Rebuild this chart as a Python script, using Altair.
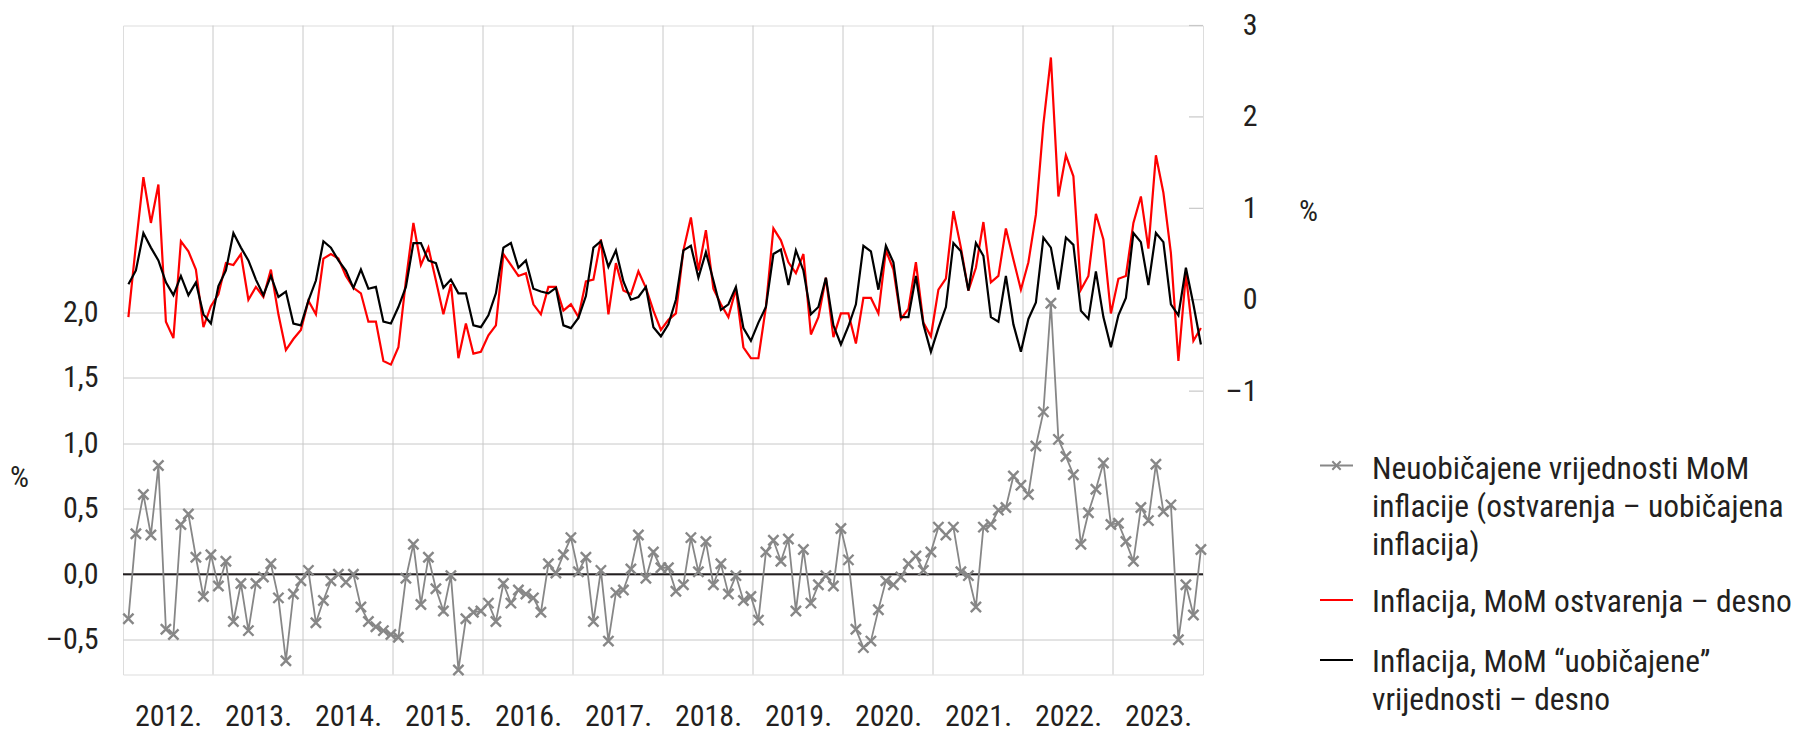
import altair as alt
import pandas as pd

# ---- data ----
years = ["2012.", "2013.", "2014.", "2015.", "2016.", "2017.", "2018.", "2019.",
         "2020.", "2021.", "2022.", "2023."]

# Inflacija, MoM ostvarenja (right axis)
red = [-0.19, 0.60, 1.34, 0.84, 1.26, -0.24, -0.42, 0.64, 0.53, 0.33, -0.30, -0.07,
       0.06, 0.40, 0.38, 0.50, 0.00, 0.14, 0.03, 0.33, -0.16, -0.55, -0.43, -0.33,
       -0.01, -0.16, 0.45, 0.50, 0.45, 0.26, 0.13, 0.07, -0.24, -0.24, -0.67, -0.71,
       -0.52, 0.21, 0.84, 0.38, 0.57, 0.21, -0.16, 0.17, -0.64, -0.26, -0.59, -0.57,
       -0.39, -0.28, 0.50, 0.38, 0.26, 0.29, -0.05, -0.16, 0.14, 0.14, -0.12, -0.05,
       -0.19, 0.20, 0.22, 0.66, -0.16, 0.40, 0.10, 0.06, 0.31, 0.13, -0.12, -0.33,
       -0.22, -0.15, 0.54, 0.90, 0.32, 0.76, 0.12, -0.05, -0.19, 0.12, -0.52, -0.64,
       -0.64, -0.08, 0.78, 0.65, 0.41, 0.29, 0.50, -0.38, -0.19, 0.24, -0.41, -0.15,
       -0.15, -0.48, 0.02, 0.02, -0.15, 0.54, 0.33, -0.21, -0.10, 0.41, -0.25, -0.40,
       0.11, 0.23, 0.97, 0.57, 0.10, 0.35, 0.85, 0.19, 0.26, 0.78, 0.44, 0.11,
       0.41, 0.93, 1.92, 2.65, 1.13, 1.58, 1.35, 0.11, 0.26, 0.94, 0.66, -0.15,
       0.23, 0.26, 0.84, 1.13, 0.56, 1.58, 1.17, 0.51, -0.67, 0.28, -0.45, -0.31]

# Inflacija, MoM "uobičajene" vrijednosti (right axis)
black = [0.17, 0.32, 0.73, 0.57, 0.43, 0.19, 0.05, 0.26, 0.05, 0.19, -0.16, -0.26,
         0.15, 0.32, 0.73, 0.57, 0.43, 0.22, 0.05, 0.26, 0.03, 0.09, -0.26, -0.28,
         -0.01, 0.21, 0.64, 0.57, 0.43, 0.32, 0.13, 0.33, 0.12, 0.14, -0.24, -0.26,
         -0.08, 0.14, 0.62, 0.62, 0.43, 0.40, 0.13, 0.22, 0.07, 0.07, -0.28, -0.30,
         -0.17, 0.07, 0.57, 0.62, 0.35, 0.43, 0.12, 0.09, 0.07, 0.13, -0.28, -0.31,
         -0.20, 0.04, 0.57, 0.64, 0.36, 0.54, 0.20, 0.00, 0.03, 0.14, -0.30, -0.40,
         -0.27, 0.00, 0.54, 0.59, 0.24, 0.52, 0.21, -0.11, -0.05, 0.14, -0.31, -0.45,
         -0.25, -0.08, 0.50, 0.55, 0.16, 0.54, 0.32, -0.16, -0.08, 0.24, -0.28, -0.49,
         -0.29, -0.05, 0.59, 0.53, 0.11, 0.59, 0.41, -0.19, -0.19, 0.26, -0.27, -0.57,
         -0.31, -0.08, 0.62, 0.53, 0.10, 0.62, 0.48, -0.19, -0.24, 0.26, -0.27, -0.57,
         -0.21, -0.03, 0.68, 0.57, 0.11, 0.68, 0.60, -0.12, -0.21, 0.31, -0.19, -0.52,
         -0.17, 0.02, 0.73, 0.63, 0.16, 0.73, 0.63, -0.05, -0.17, 0.35, -0.05, -0.49]

# Neuobičajene vrijednosti MoM inflacije (left axis)
gray = [-0.34, 0.31, 0.61, 0.30, 0.83, -0.42, -0.46, 0.38, 0.46, 0.13, -0.17, 0.15,
        -0.09, 0.10, -0.36, -0.07, -0.43, -0.07, -0.02, 0.08, -0.18, -0.66, -0.15, -0.05,
        0.03, -0.37, -0.20, -0.05, 0.00, -0.06, 0.00, -0.25, -0.36, -0.40, -0.43, -0.46,
        -0.48, -0.03, 0.23, -0.23, 0.13, -0.11, -0.28, -0.01, -0.73, -0.34, -0.29, -0.28,
        -0.22, -0.36, -0.07, -0.22, -0.12, -0.15, -0.18, -0.29, 0.08, 0.01, 0.15, 0.28,
        0.02, 0.13, -0.36, 0.03, -0.51, -0.14, -0.12, 0.04, 0.30, -0.03, 0.17, 0.05,
        0.05, -0.13, -0.08, 0.28, 0.02, 0.25, -0.08, 0.08, -0.15, -0.01, -0.20, -0.17,
        -0.35, 0.17, 0.26, 0.10, 0.27, -0.28, 0.19, -0.22, -0.08, -0.01, -0.09, 0.35,
        0.11, -0.42, -0.56, -0.51, -0.27, -0.05, -0.08, -0.02, 0.08, 0.14, 0.03, 0.17,
        0.36, 0.30, 0.36, 0.02, -0.01, -0.25, 0.36, 0.38, 0.49, 0.51, 0.75, 0.68,
        0.61, 0.98, 1.24, 2.07, 1.03, 0.90, 0.76, 0.23, 0.47, 0.65, 0.85, 0.38,
        0.39, 0.25, 0.10, 0.51, 0.41, 0.84, 0.48, 0.53, -0.50, -0.08, -0.31, 0.19]

left_ticks = [-0.5, 0.0, 0.5, 1.0, 1.5, 2.0]
right_ticks = [-1, 0, 1, 2, 3]

legend_gray = ["Neuobičajene vrijednosti MoM", "inflacije (ostvarenja – uobičajena", "inflacija)"]
legend_red = ["Inflacija, MoM ostvarenja – desno"]
legend_black = ["Inflacija, MoM “uobičajene”", "vrijednosti – desno"]

# ---- tables ----
n = len(red)
df = pd.DataFrame({
    "m": [i + 0.72 for i in range(n)],
    "red": red,
    "black": black,
    "gray": gray,
})
grid_df = pd.DataFrame({"b": [12 * k for k in range(1, len(years))]})
rt_df = pd.DataFrame({"v": right_ticks})
zero_df = pd.DataFrame({"v": [0.0]})
one = pd.DataFrame({"a": [0]})

FONT = "Liberation Sans Narrow, Arial Narrow, Roboto Condensed, DejaVu Sans Condensed, sans-serif"
TXT = "#231f20"
GRID = "#c8c8c8"
GRAY = "#878787"
W, H = 1080, 649

xscale = alt.Scale(domain=[0, 12 * len(years)], nice=False, zero=False)
year_arr = "[" + ",".join("'%s'" % y for y in years) + "]"
xaxis = alt.Axis(values=[12 * k + 6 for k in range(len(years))],
                 labelExpr=year_arr + "[floor(datum.value/12)]",
                 grid=False, ticks=False, domain=False, labelPadding=27,
                 labelFontSize=30, labelFont=FONT, labelColor=TXT, title=None,
                 labelFlush=False, labelOverlap=False)

lscale = alt.Scale(domain=[-0.765, 4.19], nice=False, zero=False)
laxis = alt.Axis(orient="left", values=left_ticks,
                 labelExpr="replace(replace(format(datum.value, '.1f'), '.', ','), /^[-\u2212]/, '\u2013')",
                 grid=True, gridColor=GRID, gridWidth=1, ticks=False, domain=False,
                 labelPadding=25, labelFontSize=30, labelFont=FONT, labelColor=TXT,
                 labelBaseline="middle",
                 title="%", titleAngle=0, titleX=-104, titleY=452, titleAlign="center",
                 titleBaseline="middle", titleFontSize=30, titleFont=FONT,
                 titleFontWeight="normal", titleColor=TXT)

rscale = alt.Scale(domain=[-4.1, 3.0], nice=False, zero=False)
raxis = alt.Axis(orient="right", values=right_ticks,
                 labelExpr="replace(format(datum.value, 'd'), /^[-\u2212]/, '\u2013')",
                 grid=False, ticks=False, domain=False, labelAlign="right",
                 labelPadding=54, labelFontSize=30, labelFont=FONT, labelColor=TXT,
                 labelBaseline="middle",
                 title="%", titleAngle=0, titleX=105, titleY=186, titleAlign="center",
                 titleBaseline="middle", titleFontSize=30, titleFont=FONT,
                 titleFontWeight="normal", titleColor=TXT)

XSHAPE = "M-1,-1L1,1M-1,1L1,-1"

vgrid = alt.Chart(grid_df).mark_rule(color=GRID, strokeWidth=1).encode(
    x=alt.X("b:Q", scale=xscale, axis=xaxis))

gray_line = alt.Chart(df).mark_line(color=GRAY, strokeWidth=1.8).encode(
    x=alt.X("m:Q", scale=xscale, axis=xaxis),
    y=alt.Y("gray:Q", scale=lscale, axis=laxis))
gray_pts = alt.Chart(df).mark_point(shape=XSHAPE, filled=False, size=105, strokeWidth=2.4,
                                    color=GRAY, opacity=1).encode(
    x=alt.X("m:Q", scale=xscale, axis=xaxis),
    y=alt.Y("gray:Q", scale=lscale, axis=laxis))
zero_rule = alt.Chart(zero_df).mark_rule(color=TXT, strokeWidth=2).encode(
    y=alt.Y("v:Q", scale=lscale, axis=laxis))

left = alt.layer(zero_rule, gray_line, gray_pts)

red_line = alt.Chart(df).mark_line(color="#ff0000", strokeWidth=2.2).encode(
    x=alt.X("m:Q", scale=xscale, axis=xaxis),
    y=alt.Y("red:Q", scale=rscale, axis=raxis))
black_line = alt.Chart(df).mark_line(color="#000000", strokeWidth=2.2).encode(
    x=alt.X("m:Q", scale=xscale, axis=xaxis),
    y=alt.Y("black:Q", scale=rscale, axis=raxis))
rticks = alt.Chart(rt_df).mark_rule(color=GRID, strokeWidth=1.2).encode(
    y=alt.Y("v:Q", scale=rscale, axis=raxis),
    x=alt.value(W - 14), x2=alt.value(W))

right = alt.layer(rticks, red_line, black_line)

# ---- legend (manual) ----
SX1, SX2, TX = 1197, 1230, 1249
LH = 38
LFS = 31.5

def sym(color, y, width):
    return alt.Chart(one).mark_rule(color=color, strokeWidth=width).encode(
        x=alt.value(SX1), x2=alt.value(SX2), y=alt.value(y))

def label(lines, y):
    return alt.Chart(one).mark_text(align="left", baseline="alphabetic", fontSize=LFS,
                                    font=FONT, color=TXT, lineHeight=LH).encode(
        x=alt.value(TX), y=alt.value(y), text=alt.value(lines))

leg_marker = alt.Chart(one).mark_point(shape=XSHAPE, filled=False, size=70, strokeWidth=2,
                                       color=GRAY, opacity=1).encode(
    x=alt.value((SX1 + SX2) / 2), y=alt.value(440))

legend = alt.layer(
    sym(GRAY, 440, 1.8), leg_marker, label(legend_gray, 453),
    sym("#ff0000", 574.5, 2), label(legend_red, 586),
    sym("#000000", 634.5, 2), label(legend_black, 646),
)

chart = alt.layer(vgrid, left, right, legend).resolve_scale(y="independent").properties(
    width=W, height=H,
    autosize=alt.AutoSizeParams(type="none"),
    padding={"left": 115, "top": 17.5, "right": 599, "bottom": 65},
).configure_view(stroke=TXT, strokeWidth=2).configure(background="white")

chart.save("out.html", embed_options={"renderer": "svg", "actions": False})
